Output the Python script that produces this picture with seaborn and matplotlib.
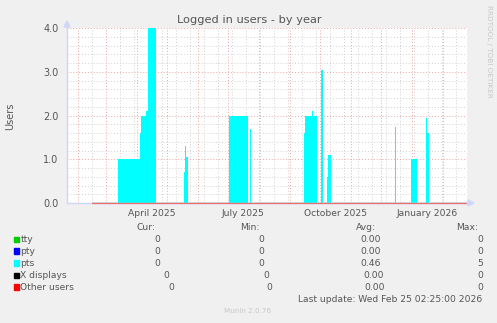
import numpy as np
import pandas as pd
import matplotlib
matplotlib.use("Agg")
import matplotlib.pyplot as plt
import matplotlib.dates as mdates
from matplotlib.ticker import MultipleLocator, FixedLocator
from matplotlib.patches import Rectangle, Polygon
from matplotlib.lines import Line2D
import seaborn as sns

# ---------------- data ----------------
START = "2025-01-21"          # left edge of the graph (400 days shown)
SPAN_DAYS = 400

# pts (cyan area): breakpoints (days after START) and value held until next breakpoint
pts_days = [24.7, 51.3, 73.0, 74.0, 79.0, 80.7, 89.3, 117.4, 118.3, 119.2, 120.5,
            162.3, 181.3, 183.0, 183.7, 237.0, 238.3, 244.7, 246.3, 250.3,
            253.5, 255.5, 260.3, 261.3, 263.5, 328.3, 329.1, 344.0, 350.3,
            359.0, 360.2, 361.5, 400.0]
pts_vals = [0.0, 1.0, 1.6, 2.0, 2.1, 4.0, 0.0, 0.7, 1.3, 1.05, 0.0,
            2.0, 0.0, 1.7, 0.0, 1.6, 2.0, 2.1, 2.0, 0.0,
            3.04, 0.0, 0.6, 1.1, 0.0, 1.74, 0.0, 1.0, 0.0,
            1.95, 1.6, 0.0, 0.0]

# other series (lines, all zero where data is known)
line_days = [24.7, 400.0]
tty_vals = [0.0, 0.0]
pty_vals = [0.0, 0.0]
xdisp_vals = [0.0, 0.0]
other_vals = [0.0, 0.0]

series_names = ["tty", "pty", "pts", "X displays", "Other users"]
series_colors = ["#00cc00", "#0000ff", "#00ffff", "#000000", "#ff0000"]
cur_vals = ["0", "0", "0", "0", "0"]
min_vals = ["0", "0", "0", "0", "0"]
avg_vals = ["0.00", "0.00", "0.46", "0.00", "0.00"]
max_vals = ["0", "0", "5", "0", "0"]

x_label_dates = ["2025-04-16", "2025-07-16", "2025-10-16", "2026-01-16"]
x_labels = ["April 2025", "July 2025", "October 2025", "January 2026"]
y_ticks = [0, 1, 2, 3, 4]
y_labels = ["0.0", "1.0", "2.0", "3.0", "4.0"]

TITLE = "Logged in users - by year"
YLABEL = "Users"
LAST_UPDATE = "Last update: Wed Feb 25 02:25:00 2026"
VERSION = "Munin 2.0.76"
WATERMARK = "RRDTOOL / TOBI OETIKER"

# ---------------- style ----------------
sns.set_theme(style="white")
plt.rcParams["font.family"] = ["DejaVu Sans"]
TXT = "#555555"
BG = "#f0f0f0"
AXISC = "#cfd6f8"

W, H = 497, 323
fig = plt.figure(figsize=(W / 100, H / 100), dpi=100, facecolor=BG)

def fx(px):
    return px / W

def fy(py):
    return 1 - py / H

L, R, T, B = 67, 467, 28, 203
ax = fig.add_axes([fx(L), fy(B), (R - L) / W, (B - T) / H], facecolor="white")

t0 = mdates.date2num(pd.Timestamp(START))
pts_x = t0 + np.array(pts_days)
line_x = t0 + np.array(line_days)

# zero lines hidden under the last (red) one
sns.lineplot(x=line_x, y=tty_vals, ax=ax, color=series_colors[0], linewidth=0.8, zorder=1.5)
sns.lineplot(x=line_x, y=pty_vals, ax=ax, color=series_colors[1], linewidth=0.8, zorder=1.5)
sns.lineplot(x=line_x, y=xdisp_vals, ax=ax, color=series_colors[3], linewidth=0.8, zorder=1.5)
ax.fill_between(pts_x, 0, pts_vals, step="post", color=series_colors[2],
                linewidth=0, zorder=2)
ax.plot(line_x, other_vals, color="#e87070", linewidth=0.9, clip_on=False, zorder=6)

ax.set_xlim(t0, t0 + SPAN_DAYS)
ax.set_ylim(0, 4.0)

# grid
ax.xaxis.set_major_locator(mdates.MonthLocator())
ax.xaxis.set_minor_locator(FixedLocator(t0 + np.arange(11, SPAN_DAYS, 14)))
ax.yaxis.set_major_locator(FixedLocator(y_ticks))
ax.yaxis.set_minor_locator(MultipleLocator(0.2))
ax.set_axisbelow(True)
ax.grid(which="minor", color="#d2d2d2", linestyle=(0, (1, 2)), linewidth=0.7)
ax.grid(which="major", color="#eda4a4", linestyle=(0, (1, 2)), linewidth=0.7)
ax.tick_params(axis="x", which="both", length=0, labelbottom=False)
ax.set_yticks(y_ticks, labels=y_labels)
ax.tick_params(axis="y", which="both", length=0, pad=6, labelsize=7, labelcolor=TXT)

sec = ax.secondary_xaxis("bottom")
sec.set_xticks([mdates.date2num(pd.Timestamp(d)) for d in x_label_dates], labels=x_labels)
sec.tick_params(length=0, pad=4, labelsize=6.6, labelcolor=TXT)
sec.spines["bottom"].set_visible(False)

for s in ["top", "right"]:
    ax.spines[s].set_visible(False)
for s in ["left", "bottom"]:
    ax.spines[s].set_color(AXISC)
    ax.spines[s].set_linewidth(1.0)

# axis arrows
fig.add_artist(Line2D([fx(L), fx(L)], [fy(T), fy(24)], color=AXISC, lw=1.0))
fig.add_artist(Polygon([[fx(L - 3), fy(27)], [fx(L + 3), fy(27)], [fx(L), fy(21)]],
                       closed=True, color=AXISC, transform=fig.transFigure))
fig.add_artist(Line2D([fx(R), fx(470)], [fy(B), fy(B)], color=AXISC, lw=1.0))
fig.add_artist(Polygon([[fx(468), fy(B - 3)], [fx(468), fy(B + 3)], [fx(474), fy(B)]],
                       closed=True, color=AXISC, transform=fig.transFigure))

# texts
fig.text(fx(249), fy(20), TITLE, ha="center", va="center", fontsize=8.2, color=TXT)
fig.text(fx(10), fy(116), YLABEL, ha="center", va="center", rotation=90,
         fontsize=7, color=TXT)
fig.text(fx(489), fy(51), WATERMARK, ha="center", va="center", rotation=270,
         fontsize=5.2, color="#c8c8c8")

# legend table
fs = 6.6
fig.text(fx(146), fy(227), "Cur:", ha="center", va="center", fontsize=fs, color=TXT)
fig.text(fx(250), fy(227), "Min:", ha="center", va="center", fontsize=fs, color=TXT)
fig.text(fx(366), fy(227), "Avg:", ha="center", va="center", fontsize=fs, color=TXT)
fig.text(fx(467), fy(227), "Max:", ha="center", va="center", fontsize=fs, color=TXT)

row_y = [239.3, 251, 263, 275.3, 287]
cur_x = [157.3, 157.3, 157.3, 166.7, 171.3]
min_x = [261, 261, 261, 266.7, 269.3]
avg_x = [370.5, 370.5, 370.5, 373.5, 375]
max_x = [480, 480, 480, 480, 480]
for i, name in enumerate(series_names):
    y = row_y[i]
    fig.add_artist(Rectangle((fx(14), fy(y + 2.7)), 5.3 / W, 5.3 / H,
                             color=series_colors[i], transform=fig.transFigure))
    fig.text(fx(20.5), fy(y), name, ha="left", va="center", fontsize=fs, color=TXT)
    fig.text(fx(cur_x[i]), fy(y), cur_vals[i], ha="center", va="center", fontsize=fs, color=TXT)
    fig.text(fx(min_x[i]), fy(y), min_vals[i], ha="center", va="center", fontsize=fs, color=TXT)
    fig.text(fx(avg_x[i]), fy(y), avg_vals[i], ha="center", va="center", fontsize=fs, color=TXT)
    fig.text(fx(max_x[i]), fy(y), max_vals[i], ha="center", va="center", fontsize=fs, color=TXT)

fig.text(fx(482), fy(299), LAST_UPDATE, ha="right", va="center", fontsize=fs, color=TXT)
fig.text(fx(248), fy(311), VERSION, ha="center", va="center", fontsize=5.2, color="#c8c8c8")

fig.savefig("out.png", dpi=100, facecolor=BG)
